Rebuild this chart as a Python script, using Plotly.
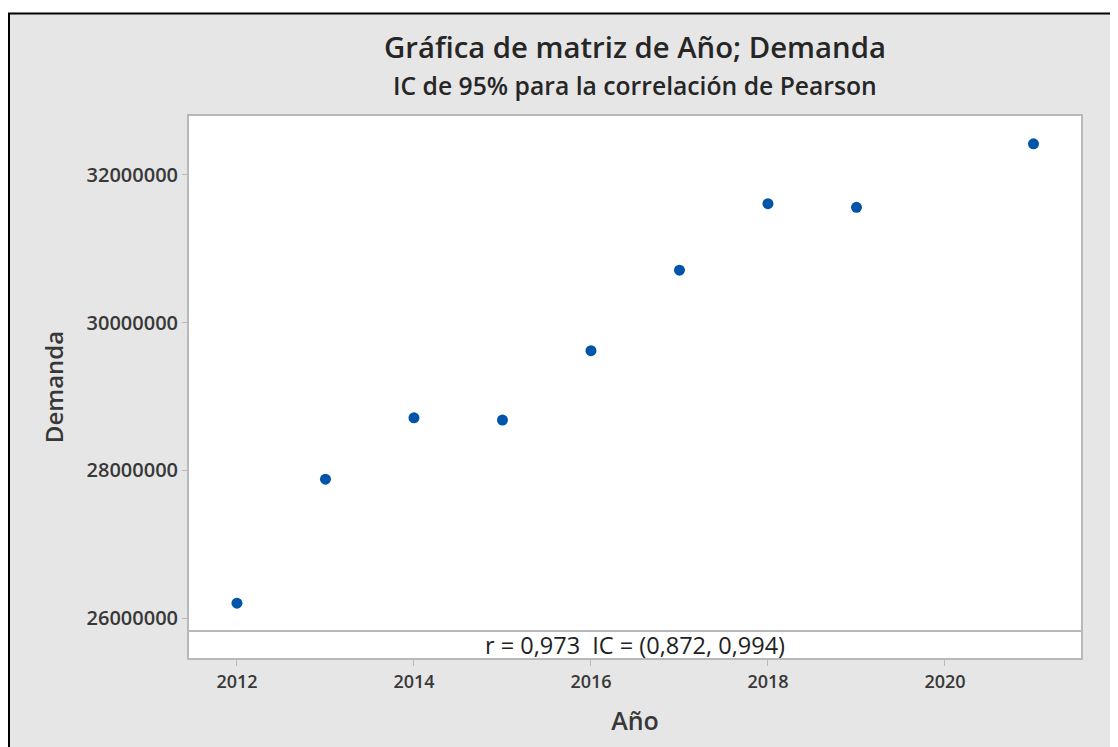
import plotly.graph_objects as go

years = [2012, 2013, 2014, 2015, 2016, 2017, 2018, 2019, 2021]
demanda = [26200000, 27880000, 28710000, 28680000, 29620000, 30710000, 31610000, 31560000, 32420000]

title_text = "Gráfica de matriz de Año; Demanda"
subtitle_text = "IC de 95% para la correlación de Pearson"
stat_text = "r = 0,973  IC = (0,872, 0,994)"
x_ticks = [2012, 2014, 2016, 2018, 2020]
y_ticks = [26000000, 28000000, 30000000, 32000000]

# page body has an 8px offset; work in target pixel coordinates
OFF = 8
W, H = 1118 - OFF, 747 - OFF
PL, PR, PT, PB = 189 - OFF, 1081 - OFF, 116 - OFF, 658 - OFF
L, R, T, B = PL, W - PR, PT, H - PB
pw, ph = W - L - R, H - T - B

def px(X):
    return (X - OFF - L) / pw

def py(Y):
    return (PB - (Y - OFF)) / ph

strip_top = 25824000
strip_h = 27 / (ph - 27) * (32797000 - strip_top)
y_range = [strip_top - strip_h, 32797000]

FONT = "Open Sans"
GRAY = "#b9b9b9"
TXT = "#383838"

fig = go.Figure()
fig.add_trace(go.Scatter(
    x=years, y=demanda, mode="markers",
    marker=dict(size=11, color="#0055a8"),
    hoverinfo="x+y", showlegend=False,
))

fig.update_layout(
    width=W, height=H,
    margin=dict(l=L, r=R, t=T, b=B),
    paper_bgcolor="#e6e6e6",
    plot_bgcolor="white",
    font=dict(family=FONT, color=TXT),
    showlegend=False,
)

fig.update_xaxes(
    range=[2011.458, 2021.537],
    tickvals=x_ticks, ticktext=[str(v) for v in x_ticks],
    showgrid=False, zeroline=False,
    showline=True, linecolor=GRAY, linewidth=2, mirror=True,
    ticks="outside", ticklen=6, tickcolor=GRAY, tickwidth=1,
    tickfont=dict(size=18, color=TXT, family=FONT, weight=600),
    title=dict(text="Año", font=dict(size=25, color=TXT, family=FONT, weight=600), standoff=21),
)
fig.update_yaxes(
    range=y_range,
    tickvals=y_ticks, ticktext=[str(v) for v in y_ticks],
    showgrid=False, zeroline=False,
    showline=True, linecolor=GRAY, linewidth=2, mirror=True,
    ticks="outside", ticklen=5, tickcolor=GRAY, tickwidth=1,
    tickfont=dict(size=20, color=TXT, family=FONT, weight=600),
    title=dict(text="Demanda", font=dict(size=24, color=TXT, family=FONT, weight=600), standoff=16),
)

# divider line between data area and statistic strip
fig.add_shape(type="line", xref="paper", yref="y", x0=0, x1=1, y0=strip_top, y1=strip_top,
              line=dict(color=GRAY, width=2))

# white top margin and black outer border (left and top)
fig.add_shape(type="rect", xref="paper", yref="paper", x0=px(0), x1=px(1125), y0=py(13), y1=py(0),
              fillcolor="white", line=dict(width=0), layer="below")
fig.add_shape(type="line", xref="paper", yref="paper", x0=px(8), x1=px(1125), y0=py(13.5), y1=py(13.5),
              line=dict(color="black", width=2))
fig.add_shape(type="line", xref="paper", yref="paper", x0=px(9), x1=px(9), y0=py(13), y1=py(760),
              line=dict(color="black", width=2))

fig.add_annotation(text=title_text, xref="paper", yref="paper", x=0.5, y=py(47),
                   showarrow=False, xanchor="center", yanchor="middle",
                   font=dict(size=29.3, color="#262626", family=FONT, weight=600))
fig.add_annotation(text=subtitle_text, xref="paper", yref="paper", x=0.5, y=py(85),
                   showarrow=False, xanchor="center", yanchor="middle",
                   font=dict(size=24.7, color="#262626", family=FONT, weight=600))
fig.add_annotation(text=stat_text, xref="paper", yref="paper", x=0.5, y=py(645),
                   showarrow=False, xanchor="center", yanchor="middle",
                   font=dict(size=23.5, color="#222222", family=FONT))

fig.write_html("out.html")
